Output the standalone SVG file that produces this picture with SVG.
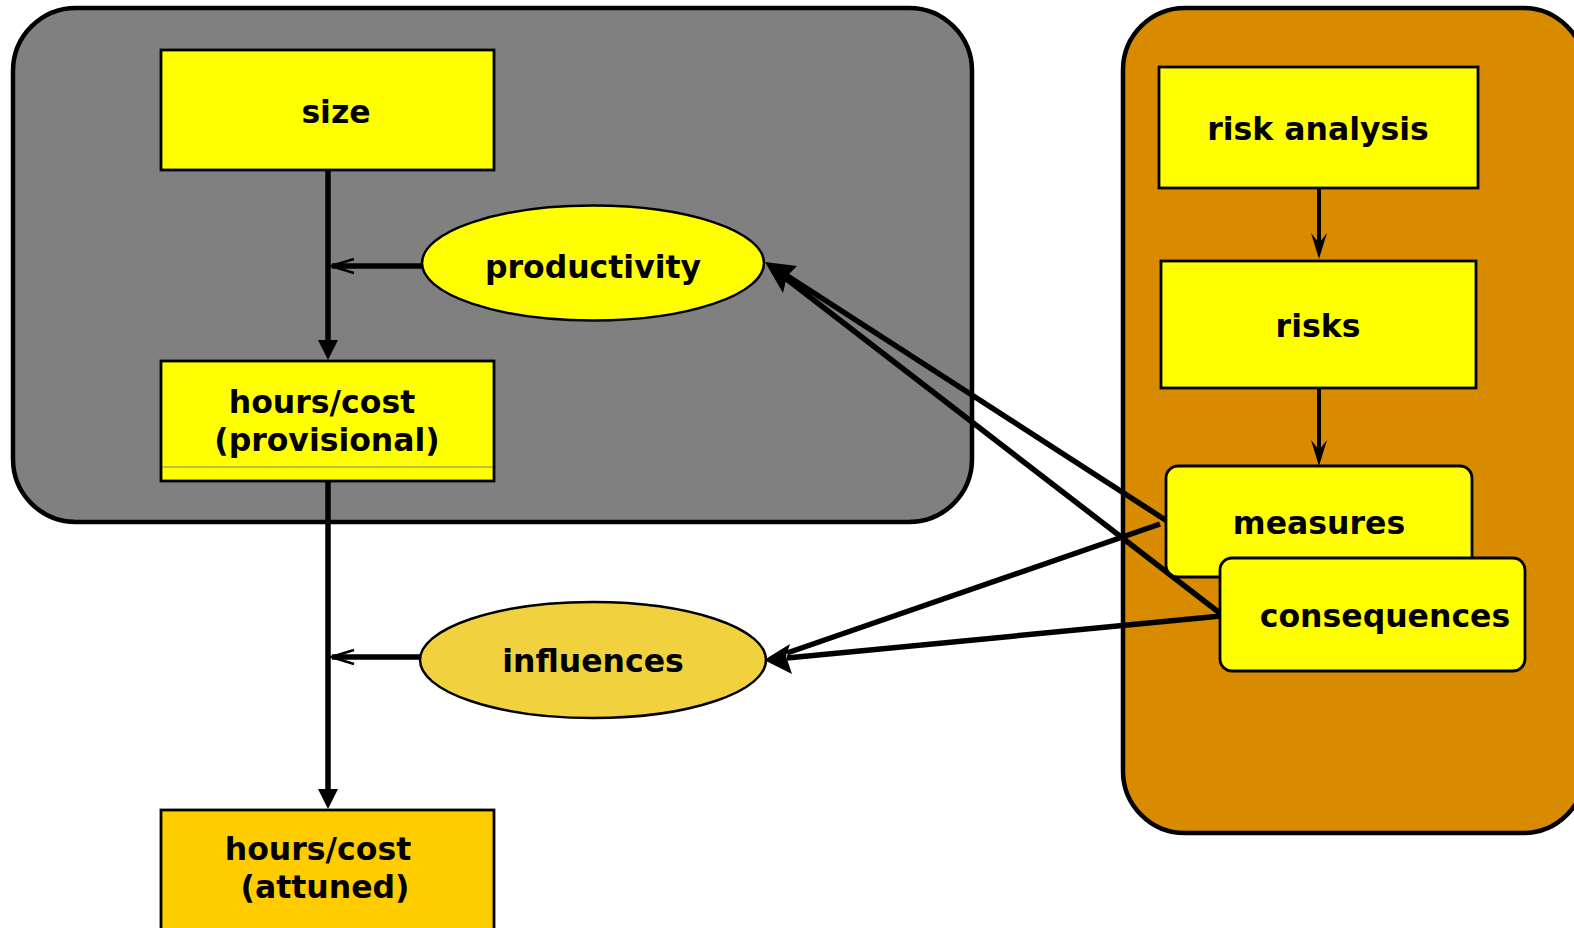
<svg xmlns="http://www.w3.org/2000/svg" width="1574" height="928" viewBox="0 0 1574 928">
<style>
.lbl{font-family:"DejaVu Sans","Verdana",sans-serif;font-weight:bold;font-size:31.5px;fill:#000;text-anchor:middle}
.box{fill:#FFFF00;stroke:#000;stroke-width:2.8}
.cont{stroke:#000;stroke-width:4.5}
.ln{fill:none;stroke:#000;stroke-width:5.5}
.ln4{fill:none;stroke:#000;stroke-width:4}
.head{fill:#000;stroke:none}
.open{fill:none;stroke:#000;stroke-width:2.5}
</style>
<rect width="1574" height="928" fill="#fff"/>
<g id="group-estimate">
<rect class="cont" x="13" y="8" width="959" height="514" rx="63" ry="63" fill="#808080"/>
</g>
<g id="group-risk">
<rect class="cont" x="1123" y="8" width="462" height="825" rx="62" ry="62" fill="#D98B00"/>
</g>
<g id="connectors">
<line class="ln" x1="328" y1="171" x2="328" y2="345"/>
<path class="head" d="M328,360 L318,340 L338,340 Z"/>
<line class="ln" x1="422" y1="266" x2="332" y2="266"/>
<path class="open" d="M354,259 L331,266 L354,273"/>
<line class="ln" x1="328" y1="482" x2="328" y2="793"/>
<path class="head" d="M328,809 L318,789 L338,789 Z"/>
<line class="ln" x1="420" y1="657" x2="332" y2="657"/>
<path class="open" d="M354,650 L331,657 L354,664"/>
<line class="ln4" x1="1319" y1="188" x2="1319" y2="250"/>
<path class="head" d="M1319,259 L1311,233 L1319,243 L1327,233 Z"/>
<line class="ln4" x1="1319" y1="388" x2="1319" y2="456"/>
<path class="head" d="M1319,466 L1311,440 L1319,450 L1327,440 Z"/>
<line class="ln" x1="1167" y1="521" x2="786" y2="275"/>
<line class="ln" x1="1221" y1="614" x2="784" y2="277"/>
<path class="head" d="M765,262 L797,266 L787,276 L783,293 Z"/>
<line class="ln" x1="1160" y1="524" x2="787" y2="653"/>
<line class="ln" x1="1221" y1="616" x2="787" y2="658"/>
<path class="head" d="M764,660 L790,644 L786,656 L792,674 Z"/>
</g>
<g id="node-size">
<rect class="box" x="161" y="50" width="333" height="120"/>
<text class="lbl" x="336" y="123">size</text>
</g>
<g id="node-productivity">
<ellipse cx="593" cy="263" rx="171" ry="57.5" fill="#FFFF00" stroke="#000" stroke-width="2.5"/>
<text class="lbl" x="593" y="278">productivity</text>
</g>
<g id="node-hours-provisional">
<rect class="box" x="161" y="361" width="333" height="120"/>
<line x1="163" y1="467" x2="492" y2="467" stroke="#808080" stroke-width="1"/>
<text class="lbl" x="322" y="413">hours/cost</text>
<text class="lbl" x="327" y="451">(provisional)</text>
</g>
<g id="node-influences">
<ellipse cx="593" cy="660" rx="173" ry="58" fill="#F2D13F" stroke="#000" stroke-width="2.5"/>
<text class="lbl" x="593" y="672">influences</text>
</g>
<g id="node-hours-attuned">
<rect x="161" y="810" width="333" height="122" fill="#FFCC00" stroke="#000" stroke-width="2.8"/>
<text class="lbl" x="318" y="860">hours/cost</text>
<text class="lbl" x="325" y="898">(attuned)</text>
</g>
<g id="node-risk-analysis">
<rect class="box" x="1159" y="67" width="319" height="121"/>
<text class="lbl" x="1318" y="140">risk analysis</text>
</g>
<g id="node-risks">
<rect class="box" x="1161" y="261" width="315" height="127"/>
<text class="lbl" x="1318" y="337">risks</text>
</g>
<g id="node-measures">
<rect class="box" x="1166" y="466" width="306" height="111" rx="12" ry="12"/>
<text class="lbl" x="1319" y="534">measures</text>
</g>
<g id="node-consequences">
<rect class="box" x="1220" y="558" width="305" height="113" rx="12" ry="12"/>
<text class="lbl" x="1385" y="627">consequences</text>
</g>
</svg>
